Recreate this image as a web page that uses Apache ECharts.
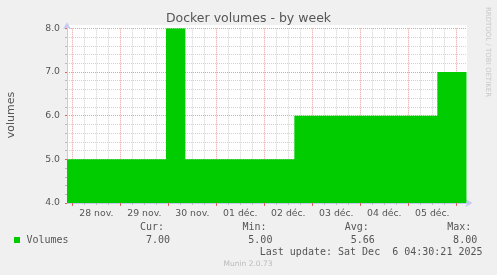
<!DOCTYPE html>
<html>
<head>
<meta charset="utf-8">
<script src="https://cdn.jsdelivr.net/npm/echarts@6/dist/echarts.min.js"></script>
<style>
html,body{margin:0;padding:0;background:#f0f0f0;}
#c{width:497px;height:275px;}
</style>
</head>
<body>
<div id="c"></div>
<script>
// ---- data ----
var titleText = 'Docker volumes - by week';
var yAxisName = 'volumes';
var seriesName = 'Volumes';
var rangeStart = '2025-11-27 21:20';
var rangeEnd = '2025-12-06 05:05';
var stepTimes = ['2025-11-27 21:20', '2025-11-29 22:50', '2025-11-30 08:30', '2025-12-02 15:00', '2025-12-05 14:30', '2025-12-06 05:05'];
var stepValues = [5, 8, 5, 6, 7, 7];
var dayLabelTimes = ['2025-11-28 12:00', '2025-11-29 12:00', '2025-11-30 12:00', '2025-12-01 12:00', '2025-12-02 12:00', '2025-12-03 12:00', '2025-12-04 12:00', '2025-12-05 12:00'];
var dayLabels = ['28 nov.', '29 nov.', '30 nov.', '01 déc.', '02 déc.', '03 déc.', '04 déc.', '05 déc.'];
var midnightTimes = ['2025-11-28 00:00', '2025-11-29 00:00', '2025-11-30 00:00', '2025-12-01 00:00', '2025-12-02 00:00', '2025-12-03 00:00', '2025-12-04 00:00', '2025-12-05 00:00', '2025-12-06 00:00'];
var minorHours = [6, 12, 18];
var yMin = 4, yMax = 8, yStep = 1;
var legendHeaders = ['Cur:', 'Min:', 'Avg:', 'Max:'];
var legendValues = ['7.00', '5.00', '5.66', '8.00'];
var lastUpdate = 'Last update: Sat Dec  6 04:30:21 2025';
var footer = 'Munin 2.0.73';
var watermark = 'RRDTOOL / TOBI OETIKER';

function ts(s) {
  var p = s.split(/[- :]/).map(Number);
  return new Date(p[0], p[1] - 1, p[2], p[3], p[4]).getTime();
}
var xMin = ts(rangeStart), xMax = ts(rangeEnd);
var data = stepTimes.map(function (t, i) { return [ts(t), stepValues[i]]; });
var majorTicks = midnightTimes.map(ts);
var labelTicks = dayLabelTimes.map(ts);
var minorTicks = [];
majorTicks.forEach(function (m) { minorHours.forEach(function (h) { minorTicks.push(m + h * 3600000); }); });
minorTicks.unshift(majorTicks[0] - 6 * 3600000);

var MAJ = '#e8a0a0', MIN = '#d2d2d2', AX = '#c8c8f4', TXT = '#555';
var mono = 'DejaVu Sans Mono', sans = 'DejaVu Sans';

var chart = echarts.init(document.getElementById('c'), null, { renderer: 'canvas' });

var graphics = [
  { type: 'rect', z: -10, silent: true, shape: { x: 67, y: 25, width: 400, height: 178 }, style: { fill: '#fff' } },
  { type: 'text', x: 248.5, y: 19, style: { text: titleText, font: '12.5px "' + sans + '"', fill: TXT, align: 'center', verticalAlign: 'middle' } },
  { type: 'text', x: 11, y: 115, rotation: Math.PI / 2, style: { text: yAxisName, font: '11px "' + sans + '"', fill: TXT, align: 'center', verticalAlign: 'middle' } },
  { type: 'text', x: 488, y: 52, rotation: -Math.PI / 2, style: { text: watermark, font: '7px "' + sans + '"', fill: '#c8c8c8', align: 'center', verticalAlign: 'middle' } },
  { type: 'rect', shape: { x: 14, y: 237, width: 6, height: 6 }, style: { fill: '#00cc00' } },
  { type: 'text', x: 26.5, y: 240, style: { text: seriesName, font: '10px "' + mono + '"', fill: TXT, align: 'left', verticalAlign: 'middle' } },
  { type: 'text', x: 482.5, y: 252, style: { text: lastUpdate, font: '10px "' + mono + '"', fill: TXT, align: 'right', verticalAlign: 'middle' } },
  { type: 'text', x: 248, y: 264, style: { text: footer, font: '7.5px "' + sans + '"', fill: '#bbbbbb', align: 'center', verticalAlign: 'middle' } }
];
legendHeaders.forEach(function (h, i) {
  graphics.push({ type: 'text', x: 140 + i * 102.4, y: 227.5, style: { text: h, font: '10px "' + mono + '"', fill: TXT, align: 'left', verticalAlign: 'middle' } });
  graphics.push({ type: 'text', x: 170 + i * 102.4, y: 240, style: { text: legendValues[i], font: '10px "' + mono + '"', fill: TXT, align: 'right', verticalAlign: 'middle' } });
});

chart.setOption({
  animation: false,
  backgroundColor: '#f0f0f0',
  grid: { left: 67, right: 30.5, top: 28.3, bottom: 72, containLabel: false },
  graphic: graphics,
  xAxis: [{
    type: 'value', min: xMin, max: xMax, position: 'bottom',
    axisLine: { show: true, lineStyle: { color: AX, width: 1 }, symbol: ['none', 'arrow'], symbolSize: [6, 7], symbolOffset: [0, 6] },
    axisTick: { show: true, customValues: majorTicks, length: 3, lineStyle: { color: '#e06060' } },
    axisLabel: { customValues: labelTicks, margin: 6, fontSize: 9.3, fontFamily: sans, color: TXT,
      formatter: function (v) { var i = labelTicks.indexOf(v); return i >= 0 ? dayLabels[i] : ''; } },
    splitLine: { show: true, lineStyle: { color: MAJ, type: [1, 1], width: 1 } }
  }, {
    type: 'value', min: xMin, max: xMax, position: 'bottom', offset: 0, z: 0,
    axisLine: { show: false },
    axisTick: { show: true, customValues: minorTicks, length: 2, lineStyle: { color: '#bbb' } },
    axisLabel: { show: false },
    splitLine: { show: true, lineStyle: { color: MIN, type: [1, 1], width: 1 } }
  }],
  yAxis: {
    type: 'value', min: yMin, max: yMax, interval: yStep,
    axisLine: { show: true, lineStyle: { color: AX, width: 1 }, symbol: ['none', 'arrow'], symbolSize: [6, 7], symbolOffset: [0, 6] },
    axisTick: { show: true, length: 2, lineStyle: { color: '#e06060' } },
    minorTick: { show: true, splitNumber: 5, length: 2, lineStyle: { color: '#bbb' } },
    axisLabel: { margin: 7, fontSize: 9.3, fontFamily: sans, color: TXT, formatter: function (v) { return v.toFixed(1); } },
    splitLine: { show: true, lineStyle: { color: MAJ, type: [1, 1], width: 1 } },
    minorSplitLine: { show: true, lineStyle: { color: MIN, type: [1, 1], width: 1 } }
  },
  series: [{
    name: seriesName, type: 'line', step: 'end', xAxisIndex: 0, data: data,
    symbol: 'none', lineStyle: { width: 0 }, areaStyle: { color: '#00cc00', opacity: 1 }, z: 3
  }]
});
</script>
</body>
</html>
